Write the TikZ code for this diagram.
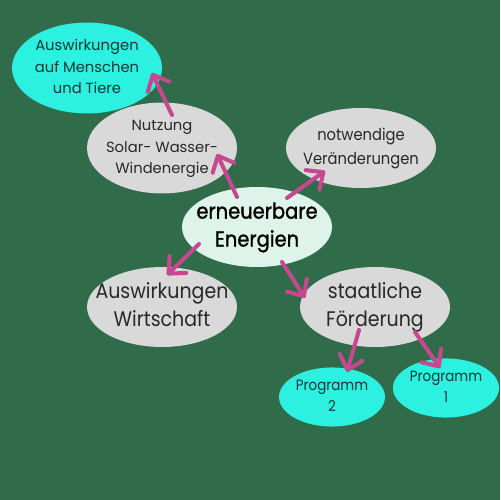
\documentclass[tikz,border=0pt]{standalone}
\usepackage{fontspec}
\setmainfont{Poppins}[FakeStretch=0.9]
\newfontfamily\plainfont{Poppins}
\newfontfamily\medfont{Poppins}[FakeStretch=0.9,FakeBold=1.2]
\usetikzlibrary{arrows.meta,shapes.geometric,calc}
\definecolor{bg}{RGB}{48,108,74}
\definecolor{cyanb}{RGB}{44,240,224}
\definecolor{grayb}{RGB}{217,217,217}
\definecolor{mintb}{RGB}{222,244,234}
\definecolor{arr}{RGB}{198,72,142}
\definecolor{txt}{RGB}{40,40,40}
\definecolor{txtc}{RGB}{25,55,52}
\newcommand{\ctext}[1]{\makebox[0pt][c]{\begin{tabular}{@{}c@{}}#1\end{tabular}}}
\begin{document}
\begin{tikzpicture}[x=0.02cm,y=-0.02cm,
  bubble/.style={ellipse,inner sep=0pt,minimum width=3cm,minimum height=1.6cm,text=txt},
  graybub/.style={bubble,fill=grayb},
  cyanbub/.style={bubble,fill=cyanb,text=txtc},
  progbub/.style={bubble,fill=cyanb,text=txtc,minimum width=2.12cm,minimum height=1.12cm},
  conn/.style={draw=arr,line width=2.3pt,line cap=round,-{Straight Barb[length=7.5pt,width=13.5pt,line cap=round,line join=round]}},
  bigtxt/.style={font=\fontsize{12}{15.9}\selectfont},
  midtxt/.style={font=\fontsize{9.3}{13.6}\selectfont},
  smalltxt/.style={font=\plainfont\fontsize{8.4}{12.2}\selectfont},
  progtxt/.style={font=\fontsize{8.5}{11.9}\selectfont}
]
\fill[bg] (0,0) rectangle (500,500);
\useasboundingbox (0,0) rectangle (500,500);

\node[cyanbub,smalltxt] (ausm) at (87,68) {\ctext{Auswirkungen\\auf Menschen\\und Tiere}};
\node[graybub,smalltxt] (nutz) at (162,148) {\ctext{Nutzung\\Solar- Wasser-\\Windenergie}};
\node[graybub,midtxt] (notw) at (361,148) {\ctext{notwendige\\Veränderungen}};
\node[bubble,fill=mintb,text=black,font=\medfont\fontsize{12.3}{15.9}\selectfont] (ern) at (257,227) {\ctext{erneuerbare\\Energien}};
\node[graybub,bigtxt] (wirt) at (162,307) {\ctext{Auswirkungen\\Wirtschaft}};
\node[graybub,bigtxt] (staat) at (375,307) {\ctext{staatliche\\Förderung}};
\node[progbub,progtxt] (prog2) at (332,397) {\ctext{Programm\\2}};
\node[progbub,progtxt] (prog1) at (446,388) {\ctext{Programm\\1}};

\draw[conn] ($(nutz)+(10,-33)$) -- ($(ausm)+(65,5)$);
\draw[conn] ($(ern)+(-20,-30)$) -- ($(nutz)+(55,6)$);
\draw[conn] ($(ern)+(30,-29)$) -- ($(notw)+(-36,23)$);
\draw[conn] ($(ern)+(-58,17)$) -- ($(wirt)+(5,-32)$);
\draw[conn] ($(ern)+(25,35)$) -- ($(staat)+(-70,-9)$);
\draw[conn] ($(staat)+(-16,23)$) -- ($(prog2)+(15,-25)$);
\draw[conn] ($(staat)+(40,25)$) -- ($(prog1)+(-6,-20)$);
\end{tikzpicture}
\end{document}
